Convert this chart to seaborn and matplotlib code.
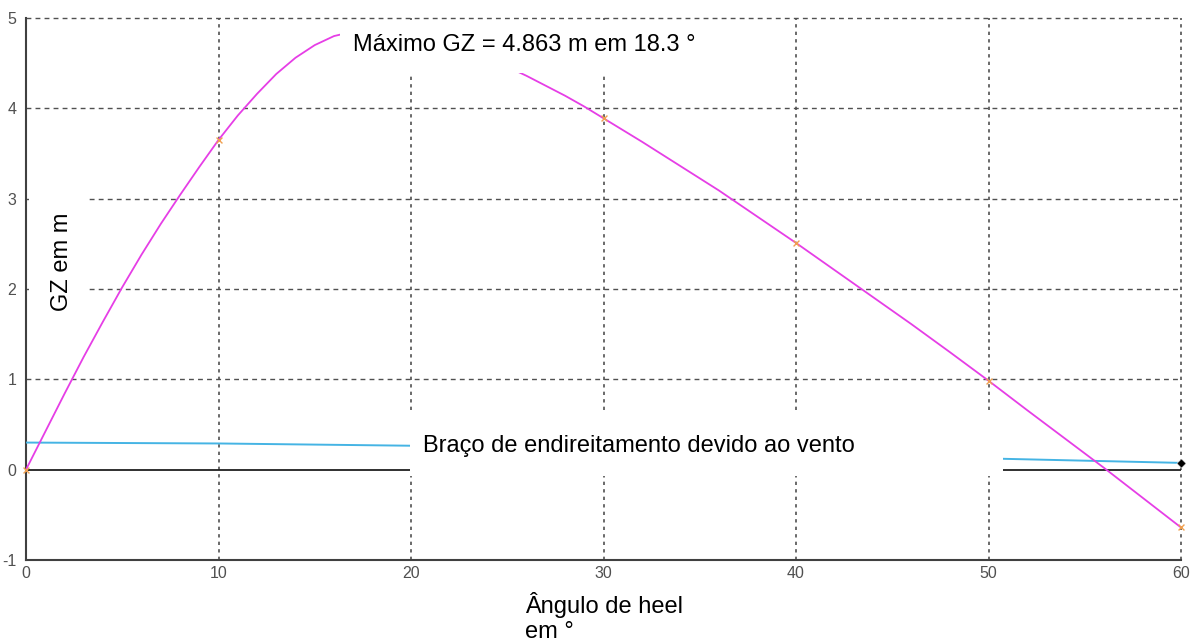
import matplotlib
matplotlib.use("Agg")
import matplotlib.pyplot as plt
from matplotlib.patches import Rectangle
import seaborn as sns
import pandas as pd

# ---------------- data ----------------
gz_angles = [0, 1, 2, 3, 4, 5, 6, 7, 8, 9, 10, 11, 12, 13, 14, 15, 16, 17, 18, 18.3,
             19, 20, 21, 22, 23, 24, 25, 26, 27, 28, 29, 30, 32, 34, 36, 38, 40,
             42, 44, 46, 48, 50, 52, 54, 56, 58, 60]
gz_values = [0, 0.42, 0.84, 1.25, 1.64, 2.02, 2.38, 2.72, 3.04, 3.35, 3.65, 3.92,
             4.16, 4.38, 4.56, 4.70, 4.80, 4.85, 4.862, 4.863,
             4.857, 4.83, 4.78, 4.72, 4.64, 4.55, 4.46, 4.36, 4.25, 4.14, 4.02, 3.89,
             3.63, 3.36, 3.09, 2.80, 2.51, 2.21, 1.91, 1.61, 1.30, 0.985, 0.66, 0.34,
             0.02, -0.31, -0.64]
mark_angles = [0, 10, 20, 30, 40, 50, 60]
mark_values = [0, 3.65, 4.83, 3.89, 2.51, 0.985, -0.64]
wind_angles = [0, 10, 20, 30, 40, 50, 60]
wind_values = [0.30, 0.29, 0.265, 0.225, 0.176, 0.124, 0.075]
x_ticks = [0, 10, 20, 30, 40, 50, 60]
y_ticks = [-1, 0, 1, 2, 3, 4, 5]
title_text = "Máximo GZ = 4.863 m em 18.3 °"
wind_text = "Braço de endireitamento devido ao vento"
ylabel_text = "GZ em m"
xlabel_text = "Ângulo de heel\nem °"

gz_df = pd.DataFrame({"ang": gz_angles, "gz": gz_values})
mk_df = pd.DataFrame({"ang": mark_angles, "gz": mark_values})
wd_df = pd.DataFrame({"ang": wind_angles, "w": wind_values})

sns.set_theme(style="white")
plt.rcParams["font.family"] = ["Liberation Sans", "DejaVu Sans"]
plt.rcParams["axes.unicode_minus"] = False

W, H = 1198, 643
fig = plt.figure(figsize=(W / 100, H / 100), dpi=100)
fig.patch.set_facecolor("white")

def fx(px):
    return px / W

def fy(py):
    return 1 - py / H

ax = fig.add_axes([fx(26), fy(560), fx(1181) - fx(26), fy(18) - fy(560)])
ax.set_facecolor("white")
ax.set_xlim(0, 60)
ax.set_ylim(-1, 5)

# grid
hgrid_kw = dict(color="#505050", lw=1.0, linestyle=(0, (3.5, 3)), zorder=1, clip_on=False)
vgrid_kw = dict(color="#505050", lw=1.2, linestyle=(0, (2, 2.5)), zorder=1, clip_on=False)
for yv in y_ticks:
    if yv not in (-1, 0):
        ax.axhline(yv, **hgrid_kw)
for xv in x_ticks:
    if xv != 0:
        ax.axvline(xv, **vgrid_kw)
ax.axhline(0, color="#202020", lw=1.3, zorder=2)

sns.lineplot(data=wd_df, x="ang", y="w", ax=ax, color="#45b4e4", lw=1.4,
             zorder=3, legend=False)
sns.lineplot(data=gz_df, x="ang", y="gz", ax=ax, color="#e63ee6", lw=1.3,
             zorder=4, legend=False)
sns.scatterplot(data=mk_df, x="ang", y="gz", ax=ax, marker="x", color="#f0a050",
                s=18, linewidth=1.0, zorder=5, legend=False, clip_on=False)
sns.scatterplot(x=[wind_angles[-1]], y=[wind_values[-1]], ax=ax, marker="D",
                color="black", s=22, zorder=6, legend=False, clip_on=False)

for side in ("top", "right"):
    ax.spines[side].set_visible(False)
for side in ("left", "bottom"):
    ax.spines[side].set_color("#404040")
    ax.spines[side].set_linewidth(1.5)
ax.set_xticks(x_ticks)
ax.set_yticks(y_ticks)
ax.tick_params(axis="both", colors="#404040", labelcolor="#505050",
               labelsize=11.5, length=5, width=1, pad=2)
ax.tick_params(axis="x", direction="inout", length=6, pad=1)
ax.set_xlabel("")
ax.set_ylabel("")

# white cover boxes
def box(x0, y0, x1, y1):
    r = Rectangle((fx(x0), fy(y1)), fx(x1) - fx(x0), fy(y0) - fy(y1),
                  transform=fig.transFigure, facecolor="white",
                  edgecolor="none", zorder=10)
    fig.add_artist(r)

box(340, 22, 735, 73)
box(29, 190, 88, 318)
box(410, 414, 1003, 476)
box(345, 578, 720, 643)

fs = 17
fig.text(fx(353), fy(45), title_text, ha="left", va="center", fontsize=fs,
         color="black", zorder=11)
fig.text(fx(423), fy(446), wind_text, ha="left", va="center", fontsize=fs,
         color="black", zorder=11)
fig.text(fx(62), fy(262), ylabel_text, ha="center", va="center", fontsize=fs,
         rotation=90, color="black", zorder=11)
fig.text(fx(525), fy(592), xlabel_text, ha="left", va="top", fontsize=fs,
         linespacing=1.15, color="black", zorder=11)

fig.savefig("out.png", dpi=100, facecolor=fig.get_facecolor())
